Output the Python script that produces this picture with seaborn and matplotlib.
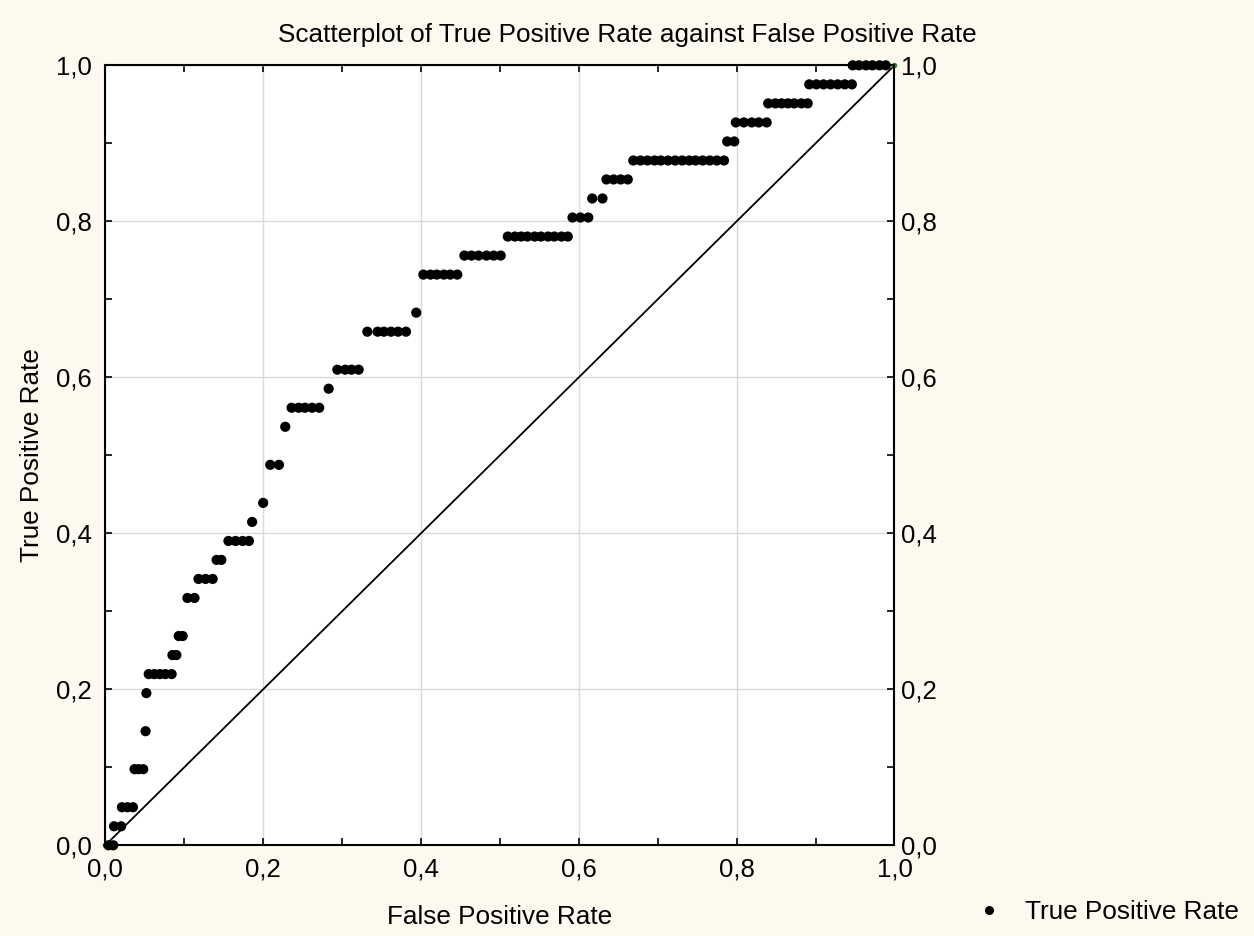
import matplotlib
matplotlib.use("Agg")
import matplotlib.pyplot as plt
import matplotlib.transforms as mtransforms
import seaborn as sns
import pandas as pd
from matplotlib.ticker import MultipleLocator

# ---- data ----
fpr = [0.004, 0.010,
       0.011, 0.020,
       0.021, 0.028, 0.035,
       0.037, 0.042, 0.048,
       0.051,
       0.052,
       0.055, 0.062, 0.069, 0.076, 0.084,
       0.085, 0.090,
       0.093, 0.098,
       0.104, 0.113,
       0.118, 0.127, 0.136,
       0.141, 0.147,
       0.156, 0.165, 0.174, 0.182,
       0.186,
       0.200,
       0.209, 0.220,
       0.228,
       0.236, 0.245, 0.253, 0.262, 0.271,
       0.283,
       0.294, 0.304, 0.312, 0.321,
       0.332, 0.345, 0.353, 0.362, 0.371, 0.381,
       0.394,
       0.403, 0.412, 0.420, 0.429, 0.437, 0.446,
       0.455, 0.464, 0.473, 0.483, 0.492, 0.501,
       0.510, 0.519, 0.527, 0.535, 0.544, 0.552, 0.561, 0.569, 0.578, 0.586,
       0.592, 0.602, 0.612,
       0.617, 0.630,
       0.635, 0.644, 0.653, 0.662,
       0.669, 0.678, 0.687, 0.696, 0.704, 0.713, 0.722, 0.731, 0.740, 0.748,
       0.757, 0.766, 0.775, 0.784,
       0.788, 0.797,
       0.799, 0.809, 0.819, 0.828, 0.838,
       0.840, 0.849, 0.857, 0.865, 0.873, 0.882, 0.890,
       0.892, 0.901, 0.910, 0.919, 0.928, 0.937, 0.946,
       0.947, 0.955, 0.964, 0.972, 0.981, 0.989]

tpr = [0.0, 0.0,
       0.0244, 0.0244,
       0.0488, 0.0488, 0.0488,
       0.0976, 0.0976, 0.0976,
       0.1463,
       0.1951,
       0.2195, 0.2195, 0.2195, 0.2195, 0.2195,
       0.2439, 0.2439,
       0.2683, 0.2683,
       0.3171, 0.3171,
       0.3415, 0.3415, 0.3415,
       0.3659, 0.3659,
       0.3902, 0.3902, 0.3902, 0.3902,
       0.4146,
       0.4390,
       0.4878, 0.4878,
       0.5366,
       0.5610, 0.5610, 0.5610, 0.5610, 0.5610,
       0.5854,
       0.6098, 0.6098, 0.6098, 0.6098,
       0.6585, 0.6585, 0.6585, 0.6585, 0.6585, 0.6585,
       0.6829,
       0.7317, 0.7317, 0.7317, 0.7317, 0.7317, 0.7317,
       0.7561, 0.7561, 0.7561, 0.7561, 0.7561, 0.7561,
       0.7805, 0.7805, 0.7805, 0.7805, 0.7805, 0.7805, 0.7805, 0.7805, 0.7805, 0.7805,
       0.8049, 0.8049, 0.8049,
       0.8293, 0.8293,
       0.8537, 0.8537, 0.8537, 0.8537,
       0.8780, 0.8780, 0.8780, 0.8780, 0.8780, 0.8780, 0.8780, 0.8780, 0.8780, 0.8780,
       0.8780, 0.8780, 0.8780, 0.8780,
       0.9024, 0.9024,
       0.9268, 0.9268, 0.9268, 0.9268, 0.9268,
       0.9512, 0.9512, 0.9512, 0.9512, 0.9512, 0.9512, 0.9512,
       0.9756, 0.9756, 0.9756, 0.9756, 0.9756, 0.9756, 0.9756,
       1.0, 1.0, 1.0, 1.0, 1.0, 1.0]

diag_x = [0.0, 1.0]
diag_y = [0.0, 1.0]

tick_values = [0.0, 0.2, 0.4, 0.6, 0.8, 1.0]
tick_labels = ["0,0", "0,2", "0,4", "0,6", "0,8", "1,0"]

title = "Scatterplot of True Positive Rate against False Positive Rate"
xlabel = "False Positive Rate"
ylabel = "True Positive Rate"
series_name = "True Positive Rate"

# ---- drawing ----
sns.set_style("white")
plt.rcParams['font.family'] = ['Liberation Sans', 'DejaVu Sans']
plt.rcParams['text.color'] = 'black'
plt.rcParams['axes.labelcolor'] = 'black'

bg = "#FEF9EE"
fig = plt.figure(figsize=(12.54, 9.36), dpi=100, facecolor=bg)
ax = fig.add_axes([0.084, 0.0969, 0.6293, 0.8333])
ax.set_facecolor("white")

df = pd.DataFrame({"FPR": fpr, "TPR": tpr})
ddf = pd.DataFrame({"x": diag_x, "y": diag_y})

ax.grid(True, which="major", color="#DADADA", linewidth=1.0, zorder=0)
ax.set_axisbelow(True)

sns.lineplot(data=ddf, x="x", y="y", ax=ax, color="black", linewidth=1.3,
             zorder=2, legend=False)
ax.plot(diag_x, diag_y, linestyle="none", marker="o", markersize=3,
        color="#2E8B2E", zorder=2, clip_on=False)
sns.scatterplot(data=df, x="FPR", y="TPR", ax=ax, color="black", s=54,
                edgecolor="none", linewidth=0, zorder=3, clip_on=False,
                legend=False)

ax.set_xlim(0, 1)
ax.set_ylim(0, 1)
ax.set_xticks(tick_values, tick_labels)
ax.set_yticks(tick_values, tick_labels)
ax.xaxis.set_minor_locator(MultipleLocator(0.1))
ax.yaxis.set_minor_locator(MultipleLocator(0.1))
ax.tick_params(axis="both", which="both", direction="in", length=5, width=1.2,
               top=True, right=True, bottom=True, left=True,
               labelsize=18.5, colors="black")
ax.tick_params(axis="x", which="major", pad=9)
ax.tick_params(axis="y", which="major", pad=10, labelright=True)
# right-hand labels sit closer to the frame
shift = mtransforms.ScaledTranslation(-7 / 100, 0, fig.dpi_scale_trans)
for t in ax.yaxis.get_major_ticks():
    t.label2.set_transform(t.label2.get_transform() + shift)
for sp in ax.spines.values():
    sp.set_visible(True)
    sp.set_color("black")
    sp.set_linewidth(1.5)

ax.set_xlabel(xlabel, fontsize=18.8, labelpad=17, color="black")
ax.set_ylabel(ylabel, fontsize=18.8, labelpad=8, color="black")
fig.text(0.5, 0.963, title, ha="center", va="center", fontsize=18.8,
         color="black")

handle = plt.Line2D([], [], linestyle="none", marker="o", markersize=5.5,
                    color="black")
leg = fig.legend([handle], [series_name], loc="center",
                 bbox_to_anchor=(0.883, 0.026), frameon=False, fontsize=18.8,
                 handletextpad=0.9, handlelength=1.0)
for txt in leg.get_texts():
    txt.set_color("black")

fig.savefig("out.png", dpi=100, facecolor=bg)
